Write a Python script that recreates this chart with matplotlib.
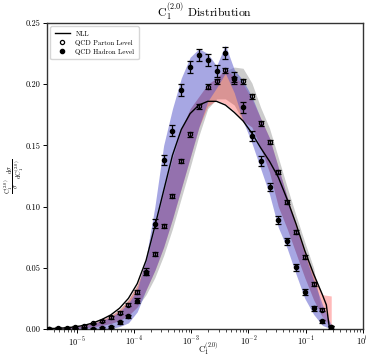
import numpy as np
import matplotlib
matplotlib.use("Agg")
from matplotlib import pyplot as plt
from matplotlib.lines import Line2D

plt.rcParams["font.family"] = "serif"
plt.rcParams["font.serif"] = ["cmr10", "DejaVu Serif"]
plt.rcParams["mathtext.fontset"] = "cm"
plt.rcParams["axes.formatter.use_mathtext"] = True
plt.rcParams["axes.unicode_minus"] = False

# bin centres of the C1 histogram
c1 = [3.29e-6, 4.69e-6, 6.68e-6, 9.53e-6, 1.358e-5, 1.936e-5, 2.76e-5, 3.94e-5,
      5.61e-5, 8.00e-5, 1.140e-4, 1.626e-4, 2.32e-4, 3.30e-4, 4.71e-4, 6.71e-4,
      9.57e-4, 1.365e-3, 1.945e-3, 2.77e-3, 3.95e-3, 5.64e-3, 8.04e-3, 1.146e-2,
      1.633e-2, 2.33e-2, 3.32e-2, 4.73e-2, 6.75e-2, 9.62e-2, 0.1371, 0.1954, 0.2786]

hadron = [0.0004, 0.0003, 0.0003, 0.0002, 0.0002, 0.0003, 0.0008, 0.0014,
          0.0054, 0.0103, 0.023, 0.0468, 0.086, 0.138, 0.162, 0.195,
          0.214, 0.2236, 0.220, 0.2105, 0.2254, 0.205, 0.181, 0.1577,
          0.137, 0.116, 0.0887, 0.0717, 0.0503, 0.030, 0.017, 0.0062, 0.0014]
hadron_err = [0.0008, 0.0008, 0.0008, 0.0008, 0.0008, 0.0008, 0.0008, 0.0008,
              0.0012, 0.0015, 0.002, 0.0028, 0.0035, 0.004, 0.0045, 0.005,
              0.005, 0.005, 0.005, 0.005, 0.005, 0.005, 0.0045, 0.004,
              0.004, 0.0035, 0.0033, 0.003, 0.0028, 0.0025, 0.002, 0.0015, 0.001]

parton = [0.0003, 0.0005, 0.0008, 0.0016, 0.0028, 0.0045, 0.0067, 0.0095,
          0.0134, 0.0197, 0.0304, 0.0459, 0.0613, 0.084, 0.109, 0.1374,
          0.159, 0.182, 0.198, 0.2024, 0.2113, 0.204, 0.2024, 0.190,
          0.168, 0.153, 0.128, 0.1036, 0.0793, 0.059, 0.0368, 0.0157, 0.0014]
parton_err = [0.0008, 0.0008, 0.0008, 0.0008, 0.0008, 0.0008, 0.001, 0.001,
              0.0012, 0.0013, 0.0014, 0.0015, 0.0015, 0.0016, 0.0017, 0.0018,
              0.0018, 0.0019, 0.002, 0.002, 0.002, 0.002, 0.002, 0.002,
              0.0019, 0.0018, 0.0017, 0.0016, 0.0015, 0.0015, 0.0014, 0.0013, 0.001]

# NLL curve
nll_x = c1[:32] + [0.229, 0.250, 0.261]
nll = [0.0003, 0.0006, 0.0010, 0.0018, 0.0030, 0.0050, 0.0078, 0.0115,
       0.0170, 0.0250, 0.0370, 0.0560, 0.0840, 0.1130, 0.1420, 0.1630,
       0.1760, 0.1830, 0.1860, 0.1860, 0.1830, 0.1770, 0.1700, 0.1600,
       0.1480, 0.1370, 0.1240, 0.1060, 0.0860, 0.0640, 0.0450, 0.0280,
       0.0197, 0.006, 0.0]

# uncertainty bands
gray_lo = [0, 0, 0.0002, 0.0005, 0.001, 0.0018, 0.003, 0.0045,
           0.007, 0.011, 0.018, 0.028, 0.042, 0.060, 0.082, 0.107,
           0.132, 0.158, 0.180, 0.188, 0.188, 0.183, 0.170, 0.165,
           0.148, 0.128, 0.100, 0.082, 0.062, 0.042, 0.024, 0.010, 0.0]
gray_hi = [0.0005, 0.0007, 0.0011, 0.0019, 0.003, 0.0048, 0.0075, 0.011,
           0.016, 0.024, 0.036, 0.055, 0.083, 0.112, 0.140, 0.163,
           0.180, 0.190, 0.200, 0.205, 0.211, 0.214, 0.213, 0.201,
           0.181, 0.164, 0.140, 0.116, 0.093, 0.071, 0.050, 0.010, 0.0]

red_lo = [0, 0, 0.0002, 0.0005, 0.001, 0.0018, 0.003, 0.0045,
          0.007, 0.011, 0.018, 0.032, 0.048, 0.067, 0.090, 0.115,
          0.140, 0.165, 0.182, 0.187, 0.184, 0.178, 0.170, 0.165,
          0.148, 0.128, 0.100, 0.082, 0.062, 0.042, 0.024, 0.010, 0.0]
red_hi = [0.0005, 0.0007, 0.0011, 0.0019, 0.003, 0.0048, 0.0075, 0.011,
          0.016, 0.024, 0.036, 0.055, 0.083, 0.112, 0.140, 0.163,
          0.180, 0.190, 0.200, 0.205, 0.213, 0.206, 0.200, 0.188,
          0.172, 0.156, 0.132, 0.108, 0.086, 0.064, 0.045, 0.028, 0.027]

blue_lo = [0, 0, 0, 0, 0, 0, 0, 0.0003,
           0.002, 0.005, 0.014, 0.032, 0.048, 0.067, 0.090, 0.115,
           0.140, 0.165, 0.186, 0.197, 0.209, 0.193, 0.170, 0.152,
           0.131, 0.110, 0.083, 0.066, 0.045, 0.025, 0.012, 0.003, 0.0]
blue_hi = [0.0006, 0.0007, 0.001, 0.0017, 0.0028, 0.0045, 0.0068, 0.0098,
           0.014, 0.021, 0.032, 0.058, 0.100, 0.150, 0.180, 0.205,
           0.222, 0.229, 0.225, 0.215, 0.232, 0.212, 0.203, 0.190,
           0.172, 0.156, 0.132, 0.108, 0.083, 0.061, 0.040, 0.020, 0.003]

fig = plt.figure(figsize=(3.66, 3.54), dpi=100)
ax = fig.add_axes([47 / 366, 25 / 354, 316 / 366, 306 / 354])
ax.set_xscale("log")

ax.fill_between(c1, gray_lo, gray_hi, color="#808080", alpha=0.4, lw=0)
ax.fill_between(c1, red_lo, red_hi, color="red", alpha=0.27, lw=0)
ax.fill_between(c1, blue_lo, blue_hi, color="#5050c8", alpha=0.5, lw=0)

ax.plot(nll_x, nll, color="black", lw=1.0, zorder=3)

ax.errorbar(c1, parton, yerr=parton_err, fmt="o", ms=3, mfc="none", mec="black",
            mew=0.9, ecolor="black", elinewidth=0.9, capsize=2.5, capthick=0.9, zorder=4)
ax.errorbar(c1, hadron, yerr=hadron_err, fmt="o", ms=3, color="black",
            elinewidth=0.9, capsize=2.5, capthick=0.9, zorder=5)

handles = [Line2D([], [], color="black", lw=1.0, label="NLL"),
           Line2D([], [], ls="none", marker="o", ms=3, mfc="none", mec="black",
                  mew=0.9, label="QCD Parton Level"),
           Line2D([], [], ls="none", marker="o", ms=3, color="black",
                  label="QCD Hadron Level")]
ax.legend(handles=handles, loc="upper left", fontsize=5, frameon=True,
          handlelength=2.2, borderpad=0.6, labelspacing=0.45)

ax.set_xlim(3.03e-6, 1.0)
ax.set_ylim(0, 0.25)
ax.set_yticks([0.0, 0.05, 0.10, 0.15, 0.20, 0.25])
ax.set_yticklabels(["0.00", "0.05", "0.10", "0.15", "0.20", "0.25"])
ax.tick_params(labelsize=6, width=0.7, length=3, pad=1.5)
ax.tick_params(which="minor", width=0.5, length=1.8)
for s in ax.spines.values():
    s.set_linewidth(1.0)
    s.set_color("#333333")

ax.set_title(r"$\mathrm{C}_1^{(2.0)}$ Distribution", fontsize=8.5, pad=3)
ax.set_xlabel(r"$\mathrm{C}_1^{(2.0)}$", fontsize=6.3)
ax.xaxis.set_label_coords(0.512, -0.039)
ax.xaxis.label.set_va("top")
ax.set_ylabel(r"$\frac{\mathrm{C}_1^{(2.0)}}{\sigma}\frac{\mathrm{d}\sigma}{\mathrm{d}\mathrm{C}_1^{(2.0)}}$",
              fontsize=6.5)
ax.yaxis.set_label_coords(-0.068, 0.5)

plt.savefig("out.png", dpi=100)
